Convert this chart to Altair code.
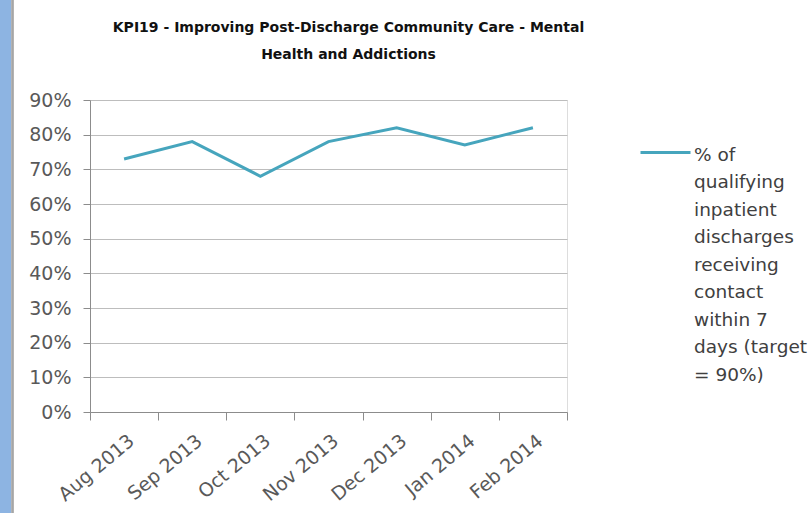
import altair as alt
import pandas as pd

months = ["Aug 2013", "Sep 2013", "Oct 2013", "Nov 2013", "Dec 2013", "Jan 2014", "Feb 2014"]
values = [0.73, 0.78, 0.68, 0.78, 0.82, 0.77, 0.82]
series_name = "% of qualifying inpatient discharges receiving contact within 7 days (target = 90%)"
legend_lines = ["", "% of", "qualifying", "inpatient", "discharges", "receiving",
                "contact", "within 7", "days (target", "= 90%)"]
y_ticks = [0, 0.1, 0.2, 0.3, 0.4, 0.5, 0.6, 0.7, 0.8, 0.9]
title_lines = ["KPI19 - Improving Post-Discharge Community Care - Mental", "Health and Addictions"]

df = pd.DataFrame({"month": months, "value": values, "series": [series_name] * len(months)})

FONT = "DejaVu Sans"

line = alt.Chart(df).mark_line(strokeWidth=3).encode(
    x=alt.X("month:N", sort=months,
            scale=alt.Scale(paddingInner=0, paddingOuter=0),
            axis=alt.Axis(title=None, labelAngle=-40, labelAlign="right", labelBaseline="middle",
                          tickBand="extent", tickSize=8, labelPadding=18, labelOffset=7,
                          labelFont=FONT, labelFontSize=19, labelColor="#595959",
                          domainColor="#8c8c8c", tickColor="#8c8c8c", grid=False)),
    y=alt.Y("value:Q", scale=alt.Scale(domain=[0, 0.9], nice=False),
            axis=alt.Axis(title=None, values=y_ticks, format=".0%", tickSize=7, labelPadding=12,
                          labelFont=FONT, labelFontSize=19, labelColor="#595959",
                          domainColor="#8c8c8c", tickColor="#8c8c8c",
                          gridColor="#bdbdbd", grid=True)),
    color=alt.Color("series:N", scale=alt.Scale(range=["#46A5BD"]),
                    legend=alt.Legend(orient="none", legendX=549, legendY=33,
                                      title=legend_lines, titleOrient="right",
                                      titleFont=FONT, titleFontSize=18.5, titleFontWeight="normal",
                                      titleColor="#404040", titleLineHeight=27.5,
                                      titleAnchor="start", titleBaseline="alphabetic", titlePadding=-3,
                                      symbolType="M-1,-0.28L1,-0.28", symbolSize=2500,
                                      symbolStrokeWidth=3,
                                      labelExpr="''", labelOffset=0, labelFontSize=1, padding=0)),
)

strip = alt.Chart(df).mark_rect(color="#8DB4E2").encode(
    x=alt.value(-90), x2=alt.value(-79), y=alt.value(-100), y2=alt.value(413)
)
edge = alt.Chart(df).mark_rule(color="#a6a6a6", strokeWidth=1.5).encode(
    x=alt.value(-77.5), y=alt.value(-100), y2=alt.value(413)
)

chart = alt.layer(strip, edge, line).properties(
    width=477, height=312,
    title=alt.TitleParams(text=title_lines, font=FONT, fontSize=14, fontWeight="bold",
                          color="#111111", lineHeight=27, anchor="middle", frame="group",
                          dx=20, dy=63, offset=0),
    autosize=alt.AutoSizeParams(type="none"),
    padding={"left": 90, "top": 100, "right": 243, "bottom": 101},
).configure_view(stroke=None).configure(background="white")

chart.save("out.html", embed_options={"renderer": "svg", "actions": False})
